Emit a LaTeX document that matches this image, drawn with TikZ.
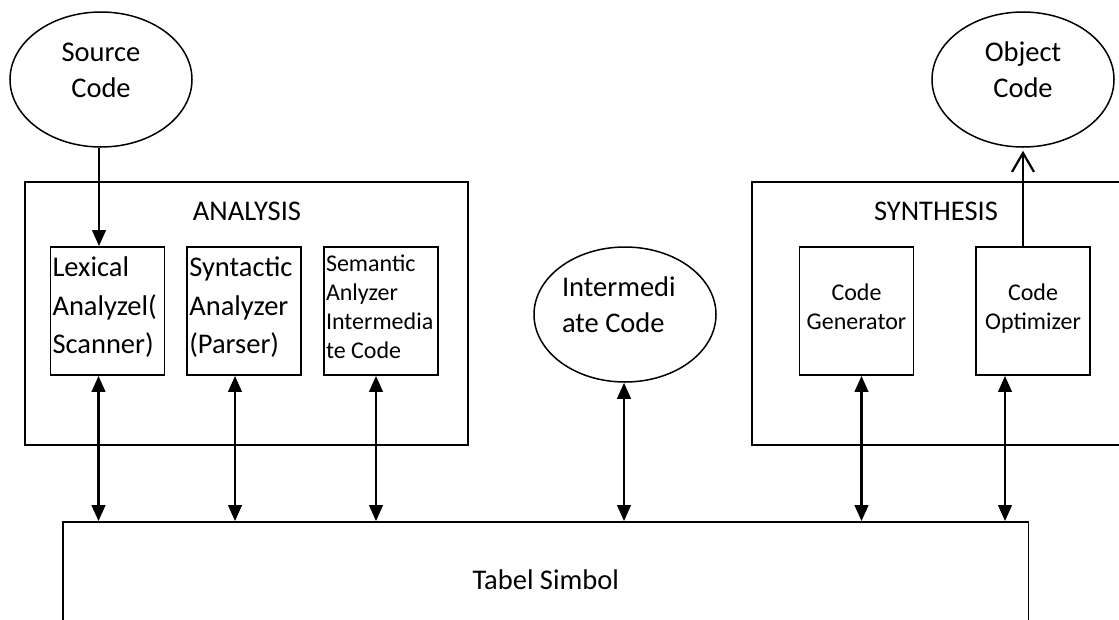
\documentclass[tikz,border=0pt]{standalone}
\usepackage{fontspec}
\setmainfont{Carlito}
\usetikzlibrary{arrows.meta,shapes.geometric}

% invisible struts that fix the first line's height and the last line's depth
\newcommand\padtop[1]{\rule{0pt}{#1}}
\newcommand\padbot[1]{\rule[-#1]{0pt}{#1}}

\newcommand\bigtxt{\fontsize{28.5pt}{38.5pt}\selectfont}
\newcommand\ovaltxt{\fontsize{28.5pt}{35.5pt}\selectfont}
\newcommand\smalltxt{\fontsize{24pt}{29pt}\selectfont}

\tikzset{
  frame/.style={draw, line width=1.8pt, inner sep=0pt},
  phase/.style={frame, minimum width=114pt, minimum height=128pt,
    inner xsep=2pt, inner ysep=0pt, text width=110pt},
  oval/.style={draw, ellipse, line width=1.5pt, inner sep=0pt,
    minimum width=182pt, minimum height=135pt, font=\ovaltxt},
  title/.style={anchor=base, inner sep=0pt, font=\bigtxt},
  head/.tip={Triangle[length=16pt,width=13.5pt]},
  flow/.style={line width=2.6pt, -head},
  both/.style={line width=2.6pt, head-head},
  emit/.style={line width=2.2pt, -{Straight Barb[length=19pt,width=22pt]}},
}

\begin{document}
\begin{tikzpicture}[x=1pt, y=-1pt]
\path[use as bounding box] (0,0) rectangle (1119,619);
\clip (0,0) rectangle (1119,619);

% input and output programs
\node[oval, align=center] (src) at (101,79.5)
  {\padtop{22pt}Source\\Code\padbot{22pt}};
\node[oval, align=center] (obj) at (1023,79.5)
  {\padtop{22pt}Object\\Code\padbot{22pt}};

% the two phases
\node[frame, minimum width=443pt, minimum height=263pt] (ana) at (246.5,313.5) {};
\node[title] (anaT) at (247,220) {ANALYSIS};
\node[frame, minimum width=378pt, minimum height=263pt] (syn) at (941,313.5) {};
\node[title] (synT) at (936,220) {SYNTHESIS};

% analysis steps
\node[phase, align=flush left, font=\bigtxt] (lex) at (107.5,311)
  {\padtop{24pt}Lexical\\Analyzel(\\Scanner)\padbot{16pt}};
\node[phase, align=flush left, font=\bigtxt] (par) at (244.3,311)
  {\padtop{24pt}Syntactic\\Analyzer\\(Parser)\padbot{16pt}};
\node[phase, align=flush left, font=\smalltxt] (sem) at (381,311)
  {\padtop{24pt}Semantic\\Anlyzer\\Intermedia\\te Code\padbot{16pt}};

% intermediate representation
\node[oval, align=flush left, text width=126pt] (mid) at (625,314.5)
  {\padtop{22pt}Intermedi\\ate Code\padbot{22pt}};

% synthesis steps
\node[phase, align=center, font=\smalltxt] (gen) at (856.5,311)
  {\padtop{24pt}Code\\Generator\padbot{16pt}};
\node[phase, align=center, font=\smalltxt] (opt) at (1033,311)
  {\padtop{24pt}Code\\Optimizer\padbot{16pt}};

% symbol table
\node[frame, minimum width=965.5pt, minimum height=116pt, font=\bigtxt]
  (tab) at (545.75,580) {Tabel Simbol};

% data flow
\draw[flow] ([xshift=-2pt]src.south) -- ([xshift=-2pt]src.south |- lex.north);
\draw[emit] (obj.south |- opt.north) -- ([yshift=-3pt]obj.south);

% links to the symbol table
\draw[both] ([xshift=-9pt]lex.south) -- ([xshift=-9pt]lex.south |- tab.north);
\draw[both] ([xshift=-9.3pt]par.south) -- ([xshift=-9.3pt]par.south |- tab.north);
\draw[both] ([xshift=-5pt]sem.south) -- ([xshift=-5pt]sem.south |- tab.north);
\draw[both] ([xshift=-1pt]mid.south) -- ([xshift=-1pt]mid.south |- tab.north);
\draw[both] ([xshift=5pt]gen.south) -- ([xshift=5pt]gen.south |- tab.north);
\draw[both] ([xshift=-28pt]opt.south) -- ([xshift=-28pt]opt.south |- tab.north);
\end{tikzpicture}
\end{document}
